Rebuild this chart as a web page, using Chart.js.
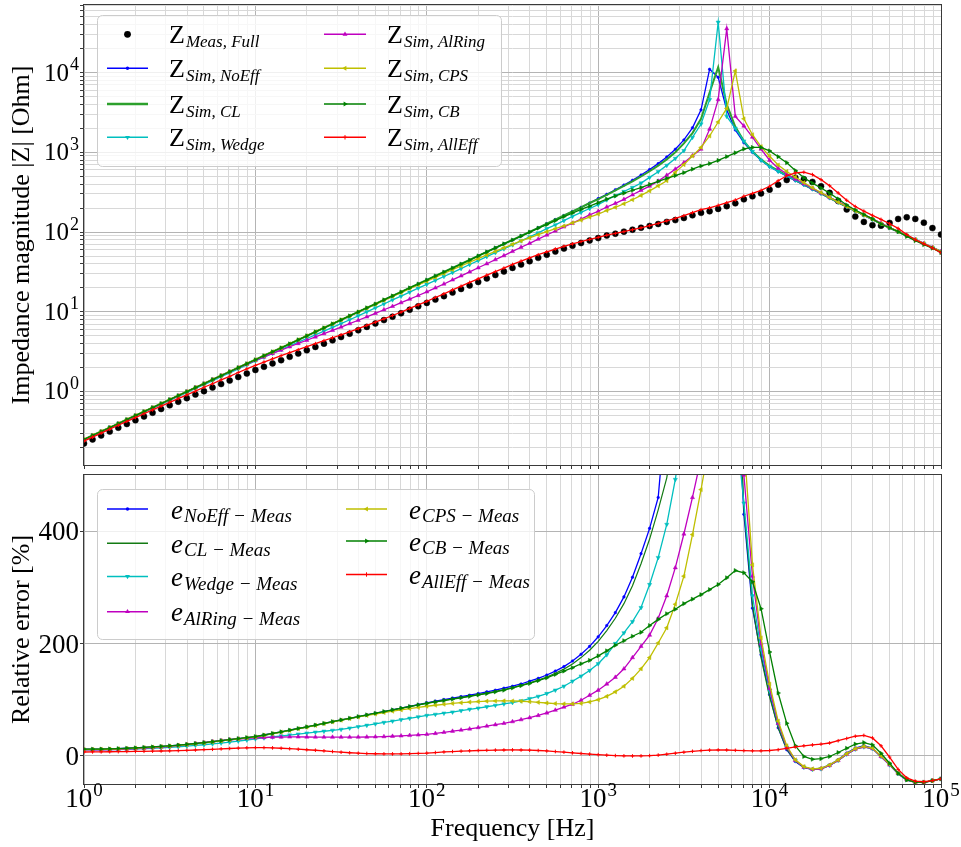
<!DOCTYPE html>
<html>
<head>
<meta charset="utf-8">
<script src="https://cdn.jsdelivr.net/npm/chart.js@4.4.0/dist/chart.umd.min.js"></script>
<style>
  html, body { margin: 0; padding: 0; background: #fff; }
  #wrap { position: relative; width: 961px; height: 847px; }
  #topChart { position: absolute; left: 0; top: 0; }
  #botChart { position: absolute; left: 0; top: 470px; }
</style>
</head>
<body>
<div id="wrap">
  <canvas id="topChart" width="961" height="470"></canvas>
  <canvas id="botChart" width="961" height="377"></canvas>
</div>
<script>
// frequency points, 20 per decade [Hz]
const freq = [
  1,1.122,1.259,1.413,1.585,1.778,1.995,2.239,2.512,2.818,
  3.162,3.548,3.981,4.467,5.012,5.623,6.31,7.079,7.943,8.913,
  10,11.22,12.59,14.13,15.85,17.78,19.95,22.39,25.12,28.18,
  31.62,35.48,39.81,44.67,50.12,56.23,63.1,70.79,79.43,89.13,
  100,112.2,125.9,141.3,158.5,177.8,199.5,223.9,251.2,281.8,
  316.2,354.8,398.1,446.7,501.2,562.3,631,707.9,794.3,891.3,
  1000,1122,1259,1413,1585,1778,1995,2239,2512,2818,
  3162,3548,3981,4467,5012,5623,6310,7079,7943,8913,
  10000,11220,12590,14130,15850,17780,19950,22390,25120,28180,
  31620,35480,39810,44670,50120,56230,63100,70790,79430,89130,
  100000
];

// impedance magnitude |Z| [Ohm]
const zMeas = [
  0.223,0.25,0.281,0.314,0.351,0.391,0.436,0.486,0.541,0.603,
  0.671,0.744,0.825,0.915,1.01,1.12,1.24,1.37,1.52,1.68,
  1.86,2.04,2.25,2.47,2.72,2.99,3.29,3.62,3.98,4.38,
  4.82,5.31,5.86,6.46,7.12,7.86,8.67,9.57,10.6,11.7,
  12.9,14.2,15.7,17.4,19.3,21.4,23.6,26.2,28.9,32,
  35.5,39.1,43,47.4,51.9,56.8,62,67.3,72.7,78.3,
  83.9,90.2,95.3,101,107,113,119,126,134,141,
  150,162,174,182,195,211,229,257,280,305,
  340,392,449,480,460,425,375,310,245,192,
  156,134,122,120,130,146,153,146,131,112,
  93
];
const zNoEff = [
  0.25,0.281,0.315,0.353,0.396,0.445,0.499,0.56,0.628,0.705,
  0.791,0.887,0.995,1.12,1.25,1.41,1.58,1.77,1.99,2.23,
  2.5,2.81,3.15,3.53,3.96,4.45,4.99,5.6,6.28,7.05,
  7.91,8.87,9.95,11.2,12.5,14.1,15.8,17.7,19.9,22.3,
  25,28.1,31.5,35.4,39.7,44.6,50.1,56.3,63.2,71.1,
  79.4,89.2,100,113,127,143,161,181,204,231,
  262,297,339,388,446,518,607,721,874,1092,
  1428,2027,3404,11000,8710,3390,1905,1318,1000,794,
  661,575,501,442,389,343,302,266,234,207,
  182,162,143,126,112,100,89.1,79.4,70.8,63.1,
  56.2
];
const zCL = [
  0.25,0.281,0.315,0.353,0.396,0.445,0.499,0.56,0.628,0.705,
  0.791,0.887,0.995,1.12,1.25,1.41,1.58,1.77,1.99,2.23,
  2.5,2.81,3.15,3.53,3.96,4.45,4.99,5.6,6.28,7.05,
  7.91,8.87,9.95,11.2,12.5,14.1,15.8,17.7,19.9,22.3,
  25,28.1,31.5,35.4,39.7,44.6,50.1,56.3,63.2,71.1,
  79.4,89.2,100,113,127,143,161,181,204,231,
  258,292,332,378,432,497,578,681,815,1000,
  1290,1740,2630,5620,11700,3980,2090,1380,1020,813,
  676,589,513,447,393,347,305,269,236,209,
  184,164,145,127,113,101,90,80.2,71.5,63.7,
  56.8
];
const zWedge = [
  0.247,0.277,0.311,0.349,0.391,0.438,0.49,0.549,0.615,0.69,
  0.773,0.865,0.969,1.09,1.22,1.36,1.53,1.71,1.92,2.16,
  2.42,2.7,3.01,3.35,3.73,4.15,4.62,5.14,5.72,6.37,
  7.1,7.94,8.9,9.98,11.2,12.5,14.1,15.7,17.6,19.8,
  22.1,24.7,27.7,31,34.8,39.1,43.7,49.1,55,61.5,
  69.1,77.5,86.9,97.5,110,123,139,157,176,197,
  221,253,286,322,362,411,484,571,685,837,
  1047,1539,2262,4571,42660,2818,1995,1380,1023,794,
  661,575,507,447,394,347,305,269,237,209,
  184,163,145,127,114,101,90.2,80.4,71.6,63.8,
  56.9
];
const zAlRing = [
  0.247,0.277,0.312,0.35,0.392,0.439,0.493,0.553,0.621,0.698,
  0.785,0.883,0.992,1.12,1.25,1.41,1.58,1.77,1.98,2.2,
  2.46,2.71,3,3.3,3.64,4,4.39,4.83,5.31,5.84,
  6.43,7.09,7.82,8.63,9.54,10.6,11.7,13,14.4,16,
  17.8,19.9,22.3,25.1,28.2,31.6,35.6,40,45,50.5,
  57.1,64.4,72.2,81.4,91.7,103,116,129,145,164,
  182,206,229,257,293,333,376,435,515,615,
  741,907,1096,1950,4571,35480,2818,2138,1549,1096,
  794,631,537,462,403,351,309,272,240,211,
  186,164,146,129,114,102,90.6,80.7,71.9,64.1,
  57.1
];
const zCPS = [
  0.25,0.281,0.315,0.353,0.396,0.445,0.499,0.56,0.628,0.705,
  0.791,0.887,0.995,1.12,1.25,1.41,1.58,1.77,1.99,2.23,
  2.5,2.81,3.15,3.53,3.96,4.45,4.99,5.6,6.28,7.05,
  7.91,8.84,9.91,11.1,12.4,13.9,15.6,17.4,19.5,21.7,
  24.2,27,30.2,33.7,37.5,41.8,46.5,51.6,57.2,63.3,
  70.1,77.2,84.5,92.5,101,110,119,130,141,154,
  168,186,204,226,254,288,328,379,439,560,
  700,900,1150,1600,2399,3548,10470,2630,1660,1175,
  891,692,575,490,417,359,313,272,237,209,
  184,163,145,127,114,101,90.2,80.4,71.6,63.8,
  56.9
];
const zCB = [
  0.25,0.281,0.315,0.353,0.396,0.445,0.499,0.56,0.628,0.705,
  0.791,0.887,0.995,1.12,1.25,1.41,1.58,1.77,1.99,2.23,
  2.5,2.81,3.15,3.53,3.96,4.45,4.99,5.6,6.28,7.05,
  7.91,8.87,9.95,11.2,12.5,14.1,15.8,17.7,19.9,22.3,
  25,28.1,31.5,35.4,39.7,44.6,50.1,56.3,63.2,71.1,
  79.4,89,99.8,112,124,139,156,173,192,211,
  233,259,283,307,334,361,396,432,472,510,
  555,614,673,721,790,880,985,1100,1150,1150,
  1040,880,740,590,480,410,356,307,260,218,
  189,166,146,126,113,101,88,78,69.5,62.7,
  55
];
const zAllEff = [
  0.239,0.268,0.301,0.337,0.377,0.422,0.471,0.526,0.587,0.655,
  0.731,0.814,0.907,1.01,1.13,1.25,1.4,1.55,1.73,1.92,
  2.13,2.34,2.57,2.81,3.07,3.34,3.65,3.98,4.34,4.72,
  5.14,5.61,6.14,6.73,7.39,8.14,8.97,9.91,11,12.2,
  13.5,15.1,16.8,18.8,20.9,23.3,25.9,28.8,31.9,35.3,
  39.2,43.2,47.4,51.9,56.5,61.2,66.2,71,75.9,80.8,
  85.7,91.4,95.9,101,107,113,120,128,138,148,
  160,175,191,201,216,233,252,281,305,333,
  375,440,507,550,562,525,454,381,309,250,
  209,183,162,144,127,111,93,80,71,63,
  55
];

// relative error [%]
const eNoEff = [
  11.9,12,12.2,12.5,13,13.6,14.3,15.1,16,16.9,
  17.9,19.2,20.6,22.1,23.7,25.4,27.2,29,30.8,32.6,
  34.4,37.2,40,42.9,45.8,48.8,51.8,54.8,57.9,61,
  64,67,70,73,76,79,82,85,88,91.3,
  94.5,97.5,100.3,103,105.5,108,111,114,117,120.5,
  124,128,133,138,144,151,159,169,181,195,
  212,232,255,283,318,360,405,460,636,771,
  855,1160,1870,5930,4370,1500,730,430,263,180,
  109,50,11,-10,-21,-24,-22,-16,-7,5,
  14,18,14,-1,-16,-32,-43,-47,-47,-44,
  -41
];
const eCL = [
  11.4,11.5,11.7,12,12.5,13.1,13.8,14.6,15.5,16.4,
  17.4,18.7,20.1,21.6,23.2,24.9,26.7,28.5,30.3,32.1,
  33.9,36.7,39.5,42.4,45.3,48.3,51.3,54.3,57.4,60.5,
  63.5,66.5,69.5,72.5,75.5,78.5,81.5,84.5,87.5,90.8,
  94,96.5,99,101.5,104,106.5,109,112,115,118,
  121.5,125.5,130,135,140.5,147,154.5,163.5,175,188,
  204,223,245,271,303,342,386,438,495,590,
  690,970,1400,3000,5900,1800,800,440,268,175,
  105,50,12,-9,-20,-24,-23,-17,-8,3,
  12,16,13,-1,-16,-31,-42,-47,-47,-44,
  -41
];
const eWedge = [
  10.7,10.8,10.9,11.1,11.4,11.8,12.3,12.9,13.6,14.4,
  15.3,16.3,17.4,18.6,19.9,21.3,22.9,24.6,26.4,28.3,
  30.3,32,33.7,35.4,37.1,38.8,40.5,42.2,43.9,45.5,
  47.2,49.5,52,54.5,57,59.5,62,64.5,67,69.5,
  72,74,76,78,80.5,83,85,87.5,90,92.5,
  95,98,102,106,111,117,124,133,142,152,
  164,180,200,219,239,264,305,353,412,492,
  600,850,1200,2500,20000,1100,600,450,285,190,
  116,57,15,-8,-20,-24,-23,-17,-8,3,
  12,16,13,-1,-16,-31,-42,-47,-47,-44,
  -41
];
const eAlRing = [
  10.7,10.8,11,11.3,11.7,12.2,12.9,13.7,14.7,15.8,
  17.1,18.6,20.2,22,23.8,25.6,27.3,28.8,30.1,31.2,
  32.1,32.8,33.3,33.6,33.8,33.8,33.7,33.6,33.5,33.4,
  33.4,33.4,33.5,33.7,34,34.4,35,35.7,36.5,37.4,
  38.5,40,42,44,46,48,50.5,53,55.5,58,
  61,64.5,68,72,76.5,81.5,87,92,99,108,
  117,128,140,155,175,195,215,245,285,335,
  395,460,530,650,1100,20000,700,500,320,200,
  120,58,16,-8,-20,-24,-23,-17,-8,3,
  12,16,13,-1,-16,-31,-42,-47,-47,-44,
  -41
];
const eCPS = [
  11.4,11.5,11.7,12,12.5,13.1,13.8,14.6,15.5,16.4,
  17.4,18.7,20.1,21.6,23.2,24.9,26.7,28.5,30.3,32.1,
  33.9,36.7,39.5,42.4,45.3,48.3,51.3,54.3,57.4,60.5,
  63.5,66.5,69.3,72,74.6,77.2,79.6,82,84.3,86.4,
  88.4,90.2,91.9,93.4,94.7,95.8,96.7,97.4,97.8,98,
  97.8,97.3,96.5,95.4,94.2,93.2,92.6,92.6,93.5,96,
  100,106,114,124,138,155,175,201,228,270,
  320,394,474,560,720,1000,5500,560,340,210,
  128,62,18,-7,-19,-23,-22,-16,-7,4,
  13,17,14,0,-15,-31,-42,-47,-47,-44,
  -41
];
const eCB = [
  11.9,12,12.2,12.5,13,13.6,14.3,15.1,16,16.9,
  17.9,19.2,20.6,22.1,23.7,25.4,27.2,29,30.8,32.6,
  34.4,37.2,40,42.9,45.8,48.8,51.8,54.8,57.9,61,
  64,67,70,73,76,79,82,85,88,91,
  93.5,96,98.5,101,103.5,106,108.5,111,114,117,
  121,125,129,134,139,145,151,157,164,170,
  178,187,197,205,213,220,232,243,253,261,
  271,279,287,296,305,317,330,326,310,262,
  185,112,58,18,-1,-6,-5,-1,6,13.6,
  21,23.7,19.6,4.7,-13,-31,-42.7,-46.8,-47,-44,
  -41
];
const eAllEff = [
  7,7.1,7.2,7.4,7.6,7.8,8,8.2,8.5,8.7,
  9,9.4,9.9,10.5,11.2,11.8,12.5,13.2,13.9,14.4,
  14.7,14.7,14.3,13.6,12.8,11.9,11,10.1,9,7.8,
  6.6,5.6,4.8,4.2,3.8,3.6,3.5,3.6,3.9,4.4,
  5,6,7,7.8,8.5,9.1,9.6,10,10.3,10.5,
  10.6,10.5,10.2,9.6,8.8,7.8,6.7,5.5,4.3,3.2,
  2.2,1.3,0.6,0.1,-0.1,0,0.5,1.5,3,4.8,
  6.6,8.2,9.5,10.3,10.6,10.5,10,9.4,9,9,
  9.6,11,13.5,16,18,19.5,21,23,27,31,
  35,36.5,32,18,-2,-24,-39,-45,-46,-44,
  -41
];

// axis ticks
const freqDecades = [0, 1, 2, 3, 4, 5];
const zDecades = [0, 1, 2, 3, 4];
const errTicks = [0, 200, 400];

const SERIF = '"Liberation Serif", "Times New Roman", serif';
const GRID_MAJOR = '#b4b4b4';
const GRID_MINOR = '#d8d8d8';
Chart.defaults.font.family = SERIF;

function logTicks(lo, hi, min, max) {
  const out = [];
  for (let k = lo; k <= hi; k++) {
    for (let m = 1; m <= 9; m++) {
      const v = m * Math.pow(10, k);
      if (v >= min * 0.9999 && v <= max * 1.0001) out.push(v);
    }
  }
  return out;
}
function isDecade(v) {
  const l = Math.log10(v);
  return Math.abs(l - Math.round(l)) < 1e-6;
}
const logGrid = {
  color: c => (c.tick && !isDecade(c.tick.value)) ? GRID_MINOR : GRID_MAJOR,
  tickColor: '#3a3a3a',
  tickLength: 4,
  lineWidth: 1
};

const pts = ys => freq.map((f, i) => ({ x: f, y: ys[i] }));

// marker / line styles of each series
const sMeas   = { color: '#000000', style: 'circle', r: 3, rot: 0, width: 0, line: false };
const sNoEff  = { color: '#0000ff', style: 'circle', r: 1.3, rot: 0, width: 1.3 };
const sCL     = { color: '#2ca02c', style: null, r: 0, rot: 0, width: 2 };
const sCLerr  = { color: '#137a13', style: null, r: 0, rot: 0, width: 1.2 };
const sWedge  = { color: '#00bfbf', style: 'triangle', r: 2.4, rot: 180, width: 1.3 };
const sAlRing = { color: '#bf00bf', style: 'triangle', r: 2.4, rot: 0, width: 1.3 };
const sCPS    = { color: '#bfbf00', style: 'triangle', r: 2.4, rot: 270, width: 1.3 };
const sCB     = { color: '#008000', style: 'triangle', r: 2.4, rot: 90, width: 1.3 };
const sAllEff = { color: '#ff0000', style: 'cross', r: 1.8, rot: 0, width: 1.3 };

function dataset(values, s, idx, n) {
  return {
    data: pts(values),
    showLine: s.line !== false,
    borderColor: s.color,
    backgroundColor: s.color,
    borderWidth: s.width,
    pointRadius: s.r,
    pointStyle: s.style || 'circle',
    pointRotation: s.rot,
    pointBorderWidth: s.style === 'cross' ? 1 : 0.5,
    pointBackgroundColor: s.color,
    pointBorderColor: s.color,
    tension: 0,
    order: n - idx
  };
}

function drawMark(ctx, s, x, y, r) {
  if (!s.style || !r) return;
  ctx.save();
  ctx.translate(x, y);
  ctx.rotate(s.rot * Math.PI / 180);
  ctx.fillStyle = s.color;
  ctx.strokeStyle = s.color;
  ctx.lineWidth = 1;
  ctx.beginPath();
  if (s.style === 'circle') {
    ctx.arc(0, 0, r, 0, Math.PI * 2);
    ctx.fill();
  } else if (s.style === 'triangle') {
    ctx.moveTo(0, -r);
    ctx.lineTo(r * 0.87, r * 0.5);
    ctx.lineTo(-r * 0.87, r * 0.5);
    ctx.closePath();
    ctx.fill();
  } else if (s.style === 'cross') {
    ctx.moveTo(0, -r); ctx.lineTo(0, r);
    ctx.moveTo(-r, 0); ctx.lineTo(r, 0);
    ctx.stroke();
  }
  ctx.restore();
}

function drawFrame(chart) {
  const { ctx, chartArea: a } = chart;
  ctx.save();
  ctx.strokeStyle = '#3a3a3a';
  ctx.lineWidth = 1;
  ctx.strokeRect(Math.round(a.left) - 0.5, Math.round(a.top) - 0.5,
    Math.round(a.right - a.left) + 1, Math.round(a.bottom - a.top) + 1);
  ctx.restore();
}

function drawPow(ctx, k, x, base, align, size) {
  const big = size + 'px ' + SERIF;
  const small = Math.round(size * 0.7) + 'px ' + SERIF;
  ctx.font = big;
  const w1 = ctx.measureText('10').width;
  ctx.font = small;
  const w2 = ctx.measureText(String(k)).width;
  const x0 = align === 'right' ? x - w1 - w2 - 1 : x - (w1 + w2 + 1) / 2;
  ctx.textAlign = 'left';
  ctx.textBaseline = 'alphabetic';
  ctx.fillStyle = '#000';
  ctx.font = big;
  ctx.fillText('10', x0, base);
  ctx.font = small;
  ctx.fillText(String(k), x0 + w1 + 1, base - size * 0.42);
}

function drawLegendBox(ctx, x, y, w, h) {
  const r = 5;
  ctx.save();
  ctx.beginPath();
  ctx.moveTo(x + r, y);
  ctx.arcTo(x + w, y, x + w, y + h, r);
  ctx.arcTo(x + w, y + h, x, y + h, r);
  ctx.arcTo(x, y + h, x, y, r);
  ctx.arcTo(x, y, x + w, y, r);
  ctx.closePath();
  ctx.fillStyle = 'rgba(255,255,255,0.8)';
  ctx.fill();
  ctx.strokeStyle = '#cccccc';
  ctx.lineWidth = 1;
  ctx.stroke();
  ctx.restore();
}

function drawEntry(ctx, it) {
  const s = it.s;
  ctx.save();
  if (s.line !== false) {
    ctx.strokeStyle = s.color;
    ctx.lineWidth = s.width + 0.3;
    ctx.beginPath();
    ctx.moveTo(it.x1, it.y);
    ctx.lineTo(it.x2, it.y);
    ctx.stroke();
  }
  drawMark(ctx, s, (it.x1 + it.x2) / 2, it.y, s.r + 0.4);
  ctx.fillStyle = '#000';
  ctx.textAlign = 'left';
  ctx.textBaseline = 'alphabetic';
  ctx.font = it.mainFont;
  ctx.fillText(it.main, it.lx, it.y + it.mainDy);
  const w = ctx.measureText(it.main).width;
  ctx.font = it.subFont;
  ctx.fillText(it.sub, it.lx + w + 1, it.y + it.subDy);
  ctx.restore();
}

// ---------- top: impedance ----------
const zMin = 0.1197, zMax = 70300;
const topSeries = [
  [zMeas, sMeas], [zNoEff, sNoEff], [zCL, sCL], [zWedge, sWedge],
  [zAlRing, sAlRing], [zCPS, sCPS], [zCB, sCB], [zAllEff, sAllEff]
];

const topText = {
  id: 'topText',
  afterDraw(chart) {
    const ctx = chart.ctx;
    const y = chart.scales.y;
    drawFrame(chart);
    zDecades.forEach(k => {
      const py = y.getPixelForValue(Math.pow(10, k));
      drawPow(ctx, k, 79, py + 8, 'right', 25);
    });
    ctx.save();
    ctx.translate(29, (chart.chartArea.top + chart.chartArea.bottom) / 2);
    ctx.rotate(-Math.PI / 2);
    ctx.font = '26px ' + SERIF;
    ctx.fillStyle = '#000';
    ctx.textAlign = 'center';
    ctx.textBaseline = 'alphabetic';
    ctx.fillText('Impedance magnitude |Z| [Ohm]', 0, 0);
    ctx.restore();

    drawLegendBox(ctx, 97.5, 15.5, 404, 151);
    const mf = '26px ' + SERIF, sf = 'italic 17px ' + SERIF;
    const rows = [34.3, 68.3, 104, 137.3];
    const c1 = [[sMeas, 'Meas, Full'], [sNoEff, 'Sim, NoEff'], [sCL, 'Sim, CL'], [sWedge, 'Sim, Wedge']];
    const c2 = [[sAlRing, 'Sim, AlRing'], [sCPS, 'Sim, CPS'], [sCB, 'Sim, CB'], [sAllEff, 'Sim, AllEff']];
    c1.forEach((e, i) => drawEntry(ctx, { s: e[0], x1: 107, x2: 148, y: rows[i], lx: 169,
      main: 'Z', sub: e[1], mainFont: mf, subFont: sf, mainDy: 9, subDy: 12.5 }));
    c2.forEach((e, i) => drawEntry(ctx, { s: e[0], x1: 324, x2: 366, y: rows[i], lx: 387,
      main: 'Z', sub: e[1], mainFont: mf, subFont: sf, mainDy: 9, subDy: 12.5 }));
  }
};

new Chart(document.getElementById('topChart'), {
  type: 'scatter',
  data: { datasets: topSeries.map((p, i) => dataset(p[0], p[1], i, topSeries.length)) },
  options: {
    responsive: false,
    animation: false,
    devicePixelRatio: 1,
    events: [],
    layout: { padding: { top: 2, right: 20, left: 0, bottom: 0 } },
    plugins: { legend: { display: false }, tooltip: { enabled: false } },
    scales: {
      x: {
        type: 'logarithmic', min: 1, max: 1e5,
        afterBuildTicks: s => { s.ticks = logTicks(0, 5, 1, 1e5).map(v => ({ value: v })); },
        afterFit: s => { s.height = 5; },
        ticks: { display: false },
        grid: logGrid,
        border: { display: false }
      },
      y: {
        type: 'logarithmic', min: zMin, max: zMax,
        afterBuildTicks: s => { s.ticks = logTicks(-1, 4, zMin, zMax).map(v => ({ value: v })); },
        afterFit: s => { s.width = 84; },
        ticks: { display: false },
        grid: logGrid,
        border: { display: false }
      }
    }
  },
  plugins: [topText]
});

// ---------- bottom: relative error ----------
const botSeries = [
  [eNoEff, sNoEff], [eCL, sCLerr], [eWedge, sWedge], [eAlRing, sAlRing],
  [eCPS, sCPS], [eCB, sCB], [eAllEff, sAllEff]
];

const botText = {
  id: 'botText',
  afterDraw(chart) {
    const ctx = chart.ctx;
    const x = chart.scales.x, y = chart.scales.y;
    drawFrame(chart);
    ctx.save();
    ctx.fillStyle = '#000';
    ctx.font = '27px ' + SERIF;
    ctx.textAlign = 'right';
    ctx.textBaseline = 'alphabetic';
    errTicks.forEach(v => ctx.fillText(String(v), 79, y.getPixelForValue(v) + 9));
    ctx.restore();
    freqDecades.forEach(k => {
      drawPow(ctx, k, x.getPixelForValue(Math.pow(10, k)), 337, 'center', 27);
    });
    ctx.save();
    ctx.fillStyle = '#000';
    ctx.font = '26px ' + SERIF;
    ctx.textAlign = 'center';
    ctx.textBaseline = 'alphabetic';
    ctx.fillText('Frequency [Hz]', (chart.chartArea.left + chart.chartArea.right) / 2, 366);
    ctx.translate(29, (chart.chartArea.top + chart.chartArea.bottom) / 2);
    ctx.rotate(-Math.PI / 2);
    ctx.fillText('Relative error [%]', 0, 0);
    ctx.restore();

    drawLegendBox(ctx, 97.5, 19.5, 437, 150);
    const mf = 'italic 27px ' + SERIF, sf = 'italic 19px ' + SERIF;
    const c1 = [[sNoEff, 'NoEff \u2212 Meas', 39], [sCLerr, 'CL \u2212 Meas', 73.3],
                [sWedge, 'Wedge \u2212 Meas', 106.5], [sAlRing, 'AlRing \u2212 Meas', 141.7]];
    const c2 = [[sCPS, 'CPS \u2212 Meas', 39], [sCB, 'CB \u2212 Meas', 71], [sAllEff, 'AllEff \u2212 Meas', 104.5]];
    c1.forEach(e => drawEntry(ctx, { s: e[0], x1: 107, x2: 148, y: e[2], lx: 171,
      main: 'e', sub: e[1], mainFont: mf, subFont: sf, mainDy: 9.5, subDy: 13 }));
    c2.forEach(e => drawEntry(ctx, { s: e[0], x1: 346, x2: 387, y: e[2], lx: 409,
      main: 'e', sub: e[1], mainFont: mf, subFont: sf, mainDy: 9.5, subDy: 13 }));
  }
};

new Chart(document.getElementById('botChart'), {
  type: 'scatter',
  data: { datasets: botSeries.map((p, i) => dataset(p[0], p[1], i, botSeries.length)) },
  options: {
    responsive: false,
    animation: false,
    devicePixelRatio: 1,
    events: [],
    layout: { padding: { top: 5, right: 20, left: 0, bottom: 0 } },
    plugins: { legend: { display: false }, tooltip: { enabled: false } },
    scales: {
      x: {
        type: 'logarithmic', min: 1, max: 1e5,
        afterBuildTicks: s => { s.ticks = logTicks(0, 5, 1, 1e5).map(v => ({ value: v })); },
        afterFit: s => { s.height = 63; },
        ticks: { display: false },
        grid: logGrid,
        border: { display: false }
      },
      y: {
        type: 'linear', min: -50, max: 500,
        afterBuildTicks: s => { s.ticks = errTicks.map(v => ({ value: v })); },
        afterFit: s => { s.width = 84; },
        ticks: { display: false },
        grid: { color: GRID_MAJOR, tickColor: '#3a3a3a', tickLength: 4, lineWidth: 1 },
        border: { display: false }
      }
    }
  },
  plugins: [botText]
});
</script>
</body>
</html>
